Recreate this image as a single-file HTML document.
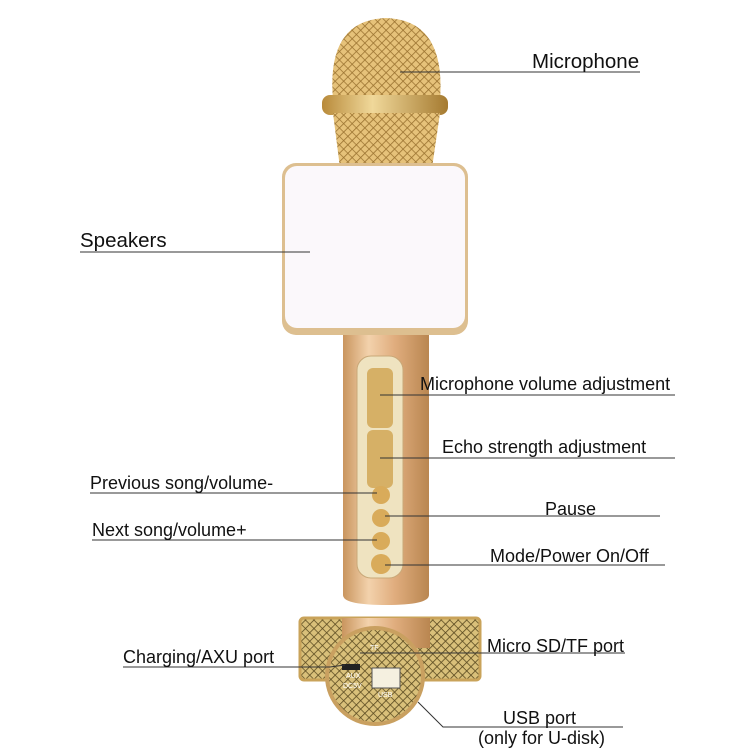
<!DOCTYPE html>
<html><head><style>
html,body{margin:0;padding:0;background:#fff;}
svg text{font-family:"Liberation Sans",sans-serif;fill:#111;}
</style></head><body>
<svg width="750" height="750" viewBox="0 0 750 750" xmlns="http://www.w3.org/2000/svg">
<defs>
<linearGradient id="gold" x1="0" x2="1" y1="0" y2="0">
<stop offset="0" stop-color="#c9955e"/><stop offset="0.3" stop-color="#f3d2ac"/><stop offset="0.6" stop-color="#e0ad7e"/><stop offset="1" stop-color="#b98650"/>
</linearGradient>
<linearGradient id="head" x1="0" x2="1">
<stop offset="0" stop-color="#b88a3a"/><stop offset="0.4" stop-color="#f0d89a"/><stop offset="1" stop-color="#a57a30"/>
</linearGradient>
<pattern id="mesh" width="6" height="6" patternUnits="userSpaceOnUse" patternTransform="rotate(45)">
<rect width="6" height="6" fill="#d9c07a"/><path d="M0 0H6M0 0V6" stroke="#5a4a20" stroke-width="1.6"/>
</pattern>
<pattern id="mesh2" width="6" height="6" patternUnits="userSpaceOnUse" patternTransform="rotate(45)">
<rect width="6" height="6" fill="#e6c27a"/><path d="M0 0H6M0 0V6" stroke="#9a7230" stroke-width="1.6"/>
</pattern>
</defs>
<path d="M333 100 Q326 20 386 18 Q446 20 440 100 Z" fill="url(#mesh2)"/>
<rect x="322" y="95" width="126" height="20" rx="8" fill="url(#head)"/>
<path d="M333 113 L440 113 L432 168 L340 168 Z" fill="url(#mesh2)"/>
<rect x="282" y="163" width="186" height="172" rx="14" fill="#ddbf90"/>
<rect x="285" y="166" width="180" height="162" rx="12" fill="#fbf8fb"/>
<path d="M343 335 H429 V595 Q429 605 386 605 Q343 605 343 595 Z" fill="url(#gold)"/>
<rect x="357" y="356" width="46" height="222" rx="14" fill="#efe3c0" stroke="#c9a878"/>
<rect x="367" y="368" width="26" height="60" rx="6" fill="#d6b066"/>
<rect x="367" y="430" width="26" height="58" rx="6" fill="#d6b066"/>
<circle cx="381" cy="495" r="9" fill="#d9ab5a"/>
<circle cx="381" cy="518" r="9" fill="#d9ab5a"/>
<circle cx="381" cy="541" r="9" fill="#d9ab5a"/>
<circle cx="381" cy="564" r="10" fill="#d9ab5a"/>
<rect x="300" y="618" width="180" height="62" rx="4" fill="url(#mesh)" stroke="#c9a35a" stroke-width="3"/>
<rect x="342" y="618" width="88" height="30" fill="url(#gold)"/>
<circle cx="375" cy="676" r="50" fill="#c9a060"/>
<circle cx="375" cy="676" r="46" fill="url(#mesh)"/>
<rect x="372" y="668" width="28" height="20" fill="#f5f0e0" stroke="#555"/>
<rect x="342" y="664" width="18" height="6" fill="#222"/>
<text x="346" y="678" font-size="7" style="fill:#fff">AUX</text>
<text x="343" y="688" font-size="7" style="fill:#fff">DC5V</text>
<text x="378" y="697" font-size="7" style="fill:#fff">USB</text>
<text x="370" y="650" font-size="7" style="fill:#fff">TF</text>
<g stroke="#333" stroke-width="1" fill="none">
<path d="M400 72 H640"/>
<path d="M80 252 H310"/>
<path d="M380 395 H675"/>
<path d="M380 458 H675"/>
<path d="M90 493 H377"/>
<path d="M385 516 H660"/>
<path d="M92 540 H377"/>
<path d="M385 565 H665"/>
<path d="M123 667 H330 L345 665"/>
<path d="M360 653 H625"/>
<path d="M418 702 L443 727 H623"/>
</g>
<g font-size="18">
<text x="532" y="68" font-size="20.5">Microphone</text>
<text x="80" y="247" font-size="20.5">Speakers</text>
<text x="420" y="390">Microphone volume adjustment</text>
<text x="442" y="453">Echo strength adjustment</text>
<text x="90" y="489">Previous song/volume-</text>
<text x="545" y="515">Pause</text>
<text x="92" y="536">Next song/volume+</text>
<text x="490" y="562">Mode/Power On/Off</text>
<text x="123" y="663">Charging/AXU port</text>
<text x="487" y="652">Micro SD/TF port</text>
<text x="503" y="724">USB port</text>
<text x="478" y="744">(only for U-disk)</text>
</g>
</svg>
</body></html>
